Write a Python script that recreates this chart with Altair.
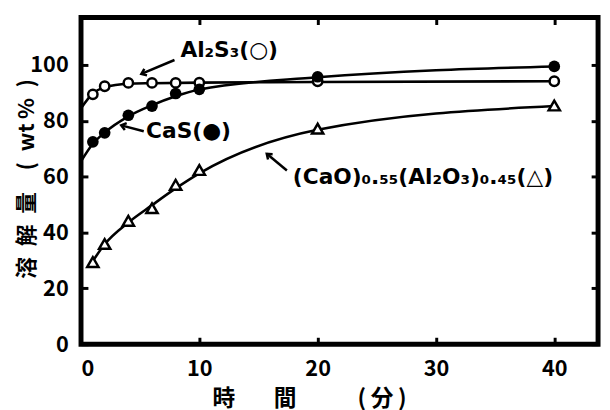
import altair as alt
import pandas as pd

# ---- measured data points (time in min, dissolved amount in wt%) ----
t_points = [1, 2, 4, 6, 8, 10, 20, 40]
al2s3_pts = [89.5, 92.4, 93.6, 93.6, 93.6, 93.7, 94.2, 94.2]
cas_pts = [72.5, 75.7, 82.0, 85.3, 89.8, 91.3, 95.8, 99.5]
cao_pts = [29.4, 35.9, 44.2, 48.7, 57.1, 62.4, 77.2, 85.5]

# ---- hand-drawn fitted curves ----
al2s3_curve_t = [0, 1, 2, 4, 6, 10, 20, 40]
al2s3_curve = [84.5, 89.8, 92.0, 93.3, 93.5, 93.7, 93.9, 94.2]
cas_curve_t = [0, 1, 2, 4, 6, 8, 10, 20, 40]
cas_curve = [65.5, 71.8, 75.8, 81.6, 85.6, 88.8, 91.2, 95.6, 99.5]
cao_curve_t = [0.8, 2, 4, 6, 8, 10, 20, 40]
cao_curve = [28.5, 35.8, 43.6, 49.8, 55.8, 61.2, 76.8, 85.3]

# ---- annotations ----
labels = ["Al₂S₃(○)", "CaS(●)", "(CaO)₀.₅₅(Al₂O₃)₀.₄₅(△)"]
label_t = [8.4, 5.5, 17.9]
label_v = [105.3, 76.3, 59.7]
arrow_tail_t = [7.9, 5.3, 17.4]
arrow_tail_v = [101.8, 76.3, 62.2]
arrow_head_t = [5.1, 3.4, 15.7]
arrow_head_v = [96.8, 78.4, 68.2]
arrow_angle = [157.6, 195.3, 220.4]

x_ticks = [0, 10, 20, 30, 40]
y_ticks = [0, 20, 40, 60, 80, 100]

X_DOMAIN = [0, 43.7]
Y_DOMAIN = [0, 117]

W, H = 524, 331

curves = pd.concat([
    pd.DataFrame({"t": al2s3_curve_t, "v": al2s3_curve, "s": "Al2S3"}),
    pd.DataFrame({"t": cas_curve_t, "v": cas_curve, "s": "CaS"}),
    pd.DataFrame({"t": cao_curve_t, "v": cao_curve, "s": "CaO"}),
])
pts = pd.DataFrame({"t": t_points, "al": al2s3_pts, "cas": cas_pts, "cao": cao_pts})
ann = pd.DataFrame({"label": labels, "t": label_t, "v": label_v})

xs = alt.Scale(domain=X_DOMAIN, nice=False, zero=False)
ys = alt.Scale(domain=Y_DOMAIN, nice=False, zero=False)

FONT = "Noto Sans CJK JP"


def X(field, **kw):
    return alt.X(field, scale=xs, axis=None, **kw)


def Y(field, **kw):
    return alt.Y(field, scale=ys, axis=None, **kw)


x_title = "時\u3000\u2002\u2009間\u3000\u3000\u2002\u2009(\u2009分\u2009)"
y_title = "溶\u2002解\u2002量\u2002\u2002(\u2002wt\u2009%\u2002)"

x_axis = alt.Axis(values=x_ticks, title=x_title, offset=-7, tickSize=7, tickWidth=3,
                  tickColor="black", domain=False, grid=False, labelPadding=15,
                  labelFontSize=22, labelFont=FONT, labelFontWeight="bold", labelColor="black",
                  titleFont=FONT, titleFontSize=23, titleFontWeight="bold", titleColor="black",
                  titleX=231, titleY=62, titleBaseline="middle", titleAnchor="middle")
y_axis = alt.Axis(values=y_ticks, title=y_title, offset=-7, tickSize=7, tickWidth=3,
                  tickColor="black", domain=False, grid=False, labelPadding=13,
                  labelFontSize=22, labelFont=FONT, labelFontWeight="bold", labelColor="black",
                  titleFont=FONT, titleFontSize=22, titleFontWeight="bold", titleColor="black",
                  titleX=-62, titleY=163, titleBaseline="middle", titleAnchor="middle")

lines = alt.Chart(curves).mark_line(color="black", strokeWidth=2.6, interpolate="monotone").encode(
    x=alt.X("t:Q", scale=xs, axis=x_axis),
    y=alt.Y("v:Q", scale=ys, axis=y_axis),
    detail="s:N",
)

open_c = alt.Chart(pts).mark_point(shape="circle", filled=True, fill="white", stroke="black",
                                   strokeWidth=2.5, size=90, opacity=1).encode(
    x=X("t:Q"), y=Y("al:Q"))
fill_c = alt.Chart(pts).mark_point(shape="circle", filled=True, color="black", size=140, opacity=1).encode(
    x=X("t:Q"), y=Y("cas:Q"))
tri = alt.Chart(pts).mark_point(shape="triangle-up", filled=True, fill="white", stroke="black",
                                strokeWidth=2.5, size=130, opacity=1).encode(
    x=X("t:Q"), y=Y("cao:Q"))

# mirrored ticks on top and right
mirror = alt.Chart(pts).mark_point(opacity=0).encode(
    x=alt.X("t:Q", scale=xs, axis=alt.Axis(orient="top", values=x_ticks, labels=False, title=None,
                                             offset=-7, tickSize=7, tickWidth=3, tickColor="black",
                                             domain=False, grid=False)),
    y=alt.Y("al:Q", scale=ys, axis=alt.Axis(orient="right", values=y_ticks, labels=False, title=None,
                                              offset=-7, tickSize=7, tickWidth=3, tickColor="black",
                                              domain=False, grid=False)),
)

# thick plot frame
frame = alt.Chart(pd.DataFrame({"k": [0]})).mark_rect(
    filled=False, stroke="black", strokeWidth=5, fillOpacity=0
).encode(x=alt.value(0), x2=alt.value(W), y=alt.value(0), y2=alt.value(H))

texts = alt.Chart(ann).mark_text(align="left", baseline="middle", font="DejaVu Sans",
                                 fontSize=22, fontWeight="bold", color="black").encode(
    x=X("t:Q"), y=Y("v:Q"), text="label:N")

arrow_layers = []
for i in range(len(labels)):
    adf = pd.DataFrame({"t": [arrow_tail_t[i]], "v": [arrow_tail_v[i]],
                        "t2": [arrow_head_t[i]], "v2": [arrow_head_v[i]]})
    shaft = alt.Chart(adf).mark_rule(color="black", strokeWidth=2.5).encode(
        x=X("t:Q"), y=Y("v:Q"), x2="t2:Q", y2="v2:Q")
    head = alt.Chart(adf).mark_point(shape="M -1 -0.75 L 0 0 L -1 0.75", filled=False, stroke="black",
                                     strokeWidth=2.5, size=90, opacity=1,
                                     angle=arrow_angle[i]).encode(
        x=X("t2:Q"), y=Y("v2:Q"))
    arrow_layers += [shaft, head]

chart = alt.layer(lines, mirror, frame, open_c, fill_c, tri, texts, *arrow_layers).resolve_axis(
    x="independent", y="independent"
).properties(
    width=W, height=H,
    autosize=alt.AutoSizeParams(type="none"),
    padding={"left": 74, "top": 7, "right": 4, "bottom": 64},
).configure_view(stroke=None).configure(background="white")

chart.save("out.html", embed_options={"renderer": "svg", "actions": False})
